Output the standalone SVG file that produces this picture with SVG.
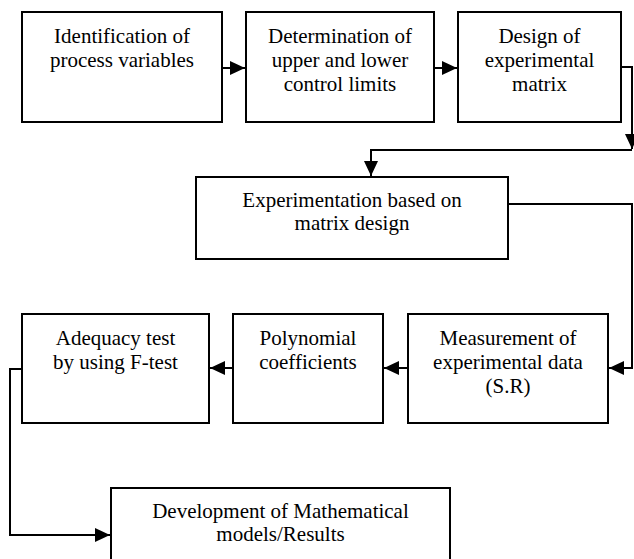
<svg xmlns="http://www.w3.org/2000/svg" width="634" height="559" viewBox="0 0 634 559">
<style>
.box{fill:#fff;stroke:#000;stroke-width:2}
text{font-family:'Liberation Serif','Tinos','DejaVu Serif',serif;font-size:21px;fill:#000;text-anchor:middle}
.c{fill:none;stroke:#000;stroke-width:2}
</style>
<defs>
<marker id="ah" markerUnits="userSpaceOnUse" markerWidth="16" markerHeight="14" refX="15" refY="7" orient="auto">
<path d="M0,0 L15,7 L0,14 Z" fill="#000"/>
</marker>
</defs>
<rect width="634" height="559" fill="#fff"/>
<g id="connectors">
<path class="c" d="M222,68 H245" marker-end="url(#ah)"/>
<path class="c" d="M434,68 H457" marker-end="url(#ah)"/>
<path class="c" d="M621,67 H632 V149" marker-end="url(#ah)"/>
<path class="c" d="M632,150 H371 V176" marker-end="url(#ah)"/>
<path class="c" d="M508,204 H632 V368 H609" marker-end="url(#ah)"/>
<path class="c" d="M408,368 H384" marker-end="url(#ah)"/>
<path class="c" d="M233,368 H210" marker-end="url(#ah)"/>
<path class="c" d="M22,369 H10 V535 H110" marker-end="url(#ah)"/>
</g>
<g id="n1">
<rect class="box" x="22" y="12" width="200" height="110"/>
<text x="122" y="43">Identification of</text>
<text x="122" y="67">process variables</text>
</g>
<g id="n2">
<rect class="box" x="246" y="12" width="188" height="110"/>
<text x="340" y="43">Determination of</text>
<text x="340" y="67">upper and lower</text>
<text x="340" y="91">control limits</text>
</g>
<g id="n3">
<rect class="box" x="458" y="12" width="163" height="110"/>
<text x="539.5" y="43">Design of</text>
<text x="539.5" y="67">experimental</text>
<text x="539.5" y="91">matrix</text>
</g>
<g id="n4">
<rect class="box" x="196" y="177" width="312" height="82"/>
<text x="352" y="207">Experimentation based on</text>
<text x="352" y="230">matrix design</text>
</g>
<g id="n5">
<rect class="box" x="408" y="314" width="200" height="109"/>
<text x="508" y="345">Measurement of</text>
<text x="508" y="369">experimental data</text>
<text x="508" y="393">(S.R)</text>
</g>
<g id="n6">
<rect class="box" x="233" y="314" width="150" height="109"/>
<text x="308" y="345">Polynomial</text>
<text x="308" y="369">coefficients</text>
</g>
<g id="n7">
<rect class="box" x="22" y="314" width="187" height="109"/>
<text x="115.5" y="345">Adequacy test</text>
<text x="115.5" y="369">by using F-test</text>
</g>
<g id="n8">
<rect class="box" x="111" y="488" width="339" height="80"/>
<text x="280.5" y="518">Development of Mathematical</text>
<text x="280.5" y="541">models/Results</text>
</g>
</svg>
